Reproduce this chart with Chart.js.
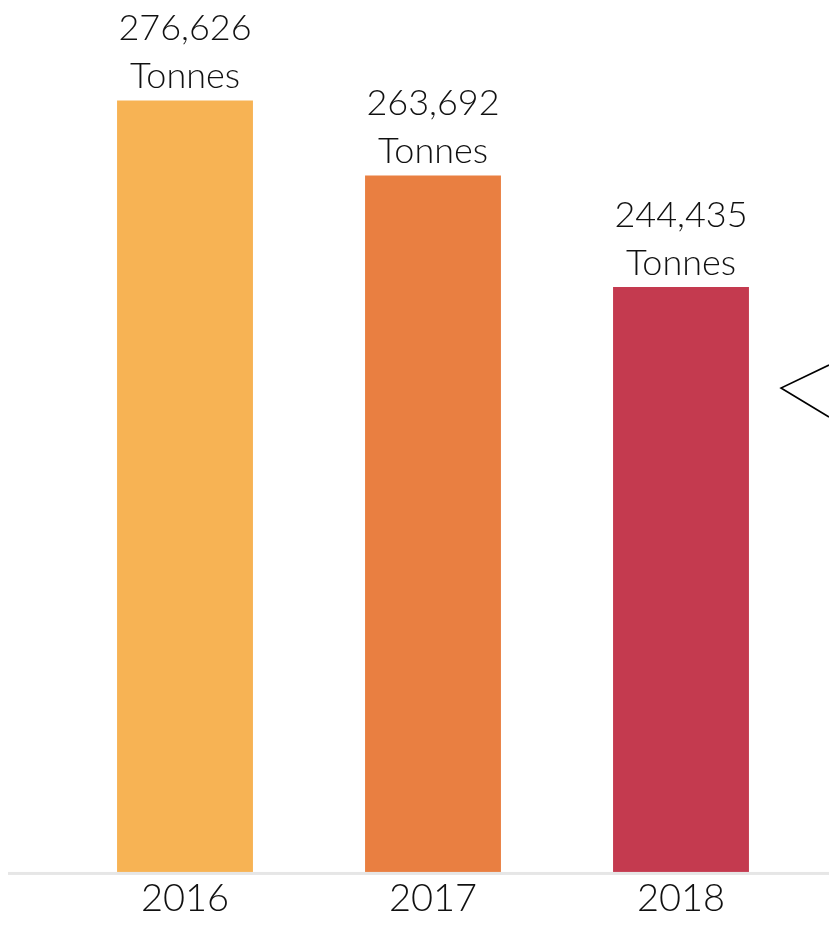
<!DOCTYPE html>
<html>
<head>
<meta charset="utf-8">
<script src="https://cdn.jsdelivr.net/npm/chart.js@4"></script>
<style>
html,body{margin:0;padding:0;background:#fff;}
#wrap{width:829px;height:925px;position:relative;}
</style>
</head>
<body>
<div id="wrap"><canvas id="c"></canvas></div>
<script>
const categories = ["2016", "2017", "2018"];
const tonnes = [276626, 263692, 244435];
const unitLabel = "Tonnes";
const barColors = ["#F7B354", "#E97F41", "#C43A4F"];

const FONT = "Lato, 'Open Sans', sans-serif";

const extras = {
  id: 'extras',
  afterDatasetsDraw(chart) {
    const ctx = chart.ctx;
    const meta = chart.getDatasetMeta(0);
    ctx.save();
    ctx.fillStyle = '#111';
    ctx.textAlign = 'center';
    ctx.textBaseline = 'alphabetic';
    ctx.font = '300 36px ' + FONT;
    meta.data.forEach((bar, i) => {
      const v = tonnes[i].toLocaleString('en-US');
      ctx.fillText(v, bar.x, bar.y - 60);
      ctx.fillText(unitLabel, bar.x, bar.y - 12);
    });
    ctx.restore();
  },
  afterDraw(chart) {
    const ctx = chart.ctx;
    const a = chart.chartArea;
    ctx.save();
    ctx.fillStyle = '#e6e6e6';
    ctx.fillRect(8, a.bottom, chart.width - 8, 3);
    ctx.strokeStyle = '#000';
    ctx.lineWidth = 1.6;
    ctx.beginPath();
    ctx.moveTo(chart.width, 365);
    ctx.lineTo(781, 388);
    ctx.lineTo(chart.width, 417);
    ctx.stroke();
    ctx.restore();
  }
};

new Chart(document.getElementById('c'), {
  type: 'bar',
  data: {
    labels: categories,
    datasets: [{
      data: tonnes,
      backgroundColor: barColors,
      borderWidth: 0,
      barPercentage: 0.548,
      categoryPercentage: 1.0
    }]
  },
  options: {
    responsive: true,
    maintainAspectRatio: false,
    animation: false,
    layout: { padding: { left: 61, right: 24, top: 23, bottom: 0 } },
    plugins: { legend: { display: false }, tooltip: { enabled: false } },
    scales: {
      x: {
        grid: { display: false, drawTicks: false },
        border: { display: false },
        ticks: { color: '#111', font: { family: FONT, size: 38, weight: '300', lineHeight: 0.765 }, padding: 12 }
      },
      y: {
        display: false,
        min: 143500,
        max: 290000
      }
    }
  },
  plugins: [extras]
});
</script>
</body>
</html>
